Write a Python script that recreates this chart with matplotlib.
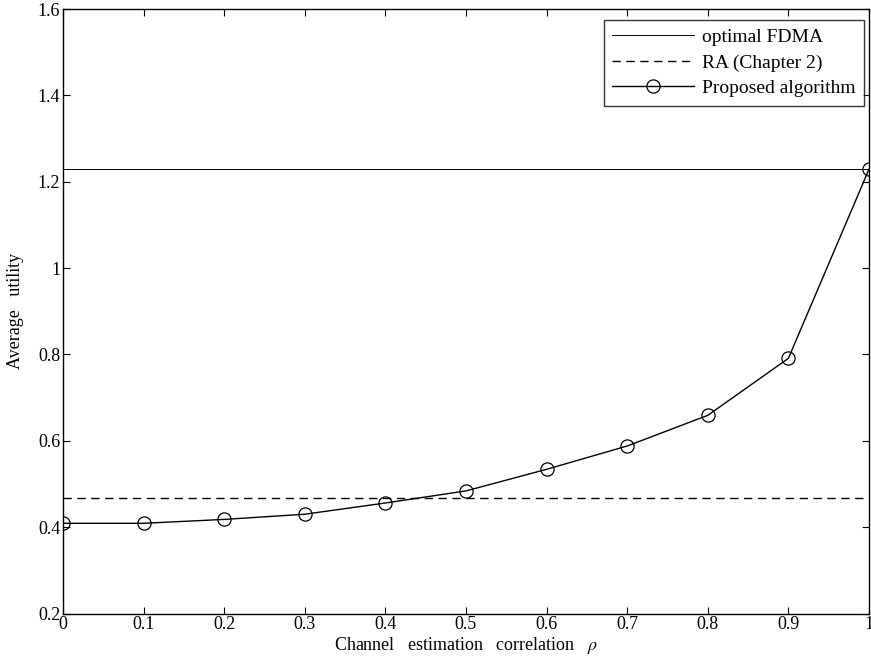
import matplotlib.pyplot as plt

# dados
rho = [0.0, 0.1, 0.2, 0.3, 0.4, 0.5, 0.6, 0.7, 0.8, 0.9, 1.0]
proposto = [0.409, 0.409, 0.418, 0.430, 0.456, 0.484, 0.534, 0.588, 0.659, 0.791, 1.229]
fdma_otimo = 1.229
ra_cap2 = 0.468

plt.rcParams['font.family'] = ['Liberation Serif', 'DejaVu Serif']
plt.rcParams['mathtext.fontset'] = 'stix'

fig = plt.figure(figsize=(8.71, 6.64), dpi=100)
ax = fig.add_axes([0.0723, 0.076, 0.9254, 0.9104])

ax.axhline(fdma_otimo, color='black', lw=0.7, label='optimal FDMA')
ax.axhline(ra_cap2, color='black', lw=1.0, ls=(0, (6, 4)), label='RA (Chapter 2)')
ax.plot(rho, proposto, color='black', lw=1.0, marker='o', markersize=9.5,
        markerfacecolor='none', markeredgewidth=0.9, label='Proposed algorithm')

ax.set_xlim(0, 1)
ax.set_ylim(0.2, 1.6)
ax.set_xticks(rho)
ax.set_xticklabels(['0', '0.1', '0.2', '0.3', '0.4', '0.5', '0.6', '0.7', '0.8', '0.9', '1'])
ax.set_yticks([0.2, 0.4, 0.6, 0.8, 1.0, 1.2, 1.4, 1.6])
ax.set_yticklabels(['0.2', '0.4', '0.6', '0.8', '1', '1.2', '1.4', '1.6'])
ax.tick_params(direction='in', top=True, right=True, length=5, width=0.8,
               labelsize=13, pad=2)
for s in ax.spines.values():
    s.set_linewidth(1.0)

ax.set_xlabel(r'Channel   estimation   correlation   $\rho$', fontsize=13, labelpad=1)
ax.set_ylabel('Average   utility', fontsize=13, labelpad=10)

leg = ax.legend(loc='upper right', bbox_to_anchor=(0.994, 0.982), fontsize=14,
                handlelength=4.2, frameon=True, fancybox=False, edgecolor='black',
                borderaxespad=0.0, borderpad=0.45, labelspacing=0.4,
                handletextpad=0.4)
leg.get_frame().set_linewidth(1.0)

fig.savefig('out.png', dpi=100)
plt.close(fig)
